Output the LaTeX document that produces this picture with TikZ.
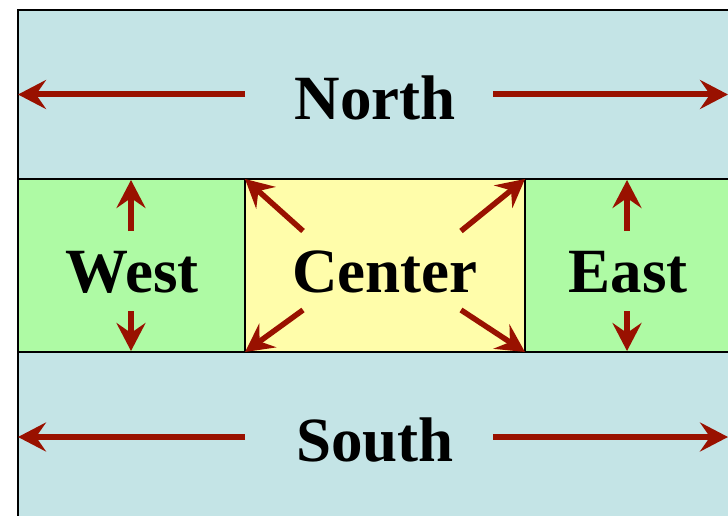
\documentclass[tikz,border=0pt]{standalone}
\usepackage{fontspec}
\setmainfont{Liberation Serif}
\usetikzlibrary{arrows.meta}
\definecolor{northc}{RGB}{196,228,230}
\definecolor{westc}{RGB}{174,250,164}
\definecolor{centc}{RGB}{255,253,170}
\definecolor{arr}{RGB}{153,17,0}
\begin{document}
\begin{tikzpicture}[x=1pt,y=-1pt,
 region/.style={draw=black,line width=2pt,inner sep=0pt,outer sep=0pt,anchor=north west},
 lab/.style={font=\fontsize{63}{70}\selectfont\bfseries,anchor=base,inner sep=0pt},
 bigarrow/.style={draw=arr,line width=6pt,-{Stealth[length=28pt,width=29pt,inset=10pt]}},
 smallarrow/.style={draw=arr,line width=5.5pt,-{Stealth[length=28pt,width=29pt,inset=10pt]}}]
\useasboundingbox (0,0) rectangle (728,516);
\clip (0,0) rectangle (728,516);
% regions
\node[region,fill=northc,minimum width=800pt,minimum height=169pt] (north) at (18,10) {};
\node[region,fill=northc,minimum width=800pt,minimum height=250pt] (south) at (18,352) {};
\node[region,fill=westc,minimum width=227pt,minimum height=173pt] (west) at (18,179) {};
\node[region,fill=centc,minimum width=280pt,minimum height=173pt] (center) at (245,179) {};
\node[region,fill=westc,minimum width=300pt,minimum height=173pt] (east) at (525,179) {};
% labels
\node[lab] (northlab) at (375,120) {North};
\node[lab] (southlab) at (375,461) {South};
\node[lab] (westlab) at (132,292) {West};
\node[lab] (centerlab) at (385,292) {Center};
\node[lab] (eastlab) at (628,292) {East};
% coordinates
\coordinate (nl) at (245,94.5);
\coordinate (nr) at (493,94.5);
\coordinate (nre) at (728,94.5);
\coordinate (sl) at (245,437);
\coordinate (sle) at (18,437);
\coordinate (sr) at (493,437);
\coordinate (sre) at (728,437);
\coordinate (wu) at (131,231);
\coordinate (wut) at (131,180);
\coordinate (wd) at (131,311);
\coordinate (wdt) at (131,351);
\coordinate (eu) at (627,231);
\coordinate (eut) at (627,180);
\coordinate (ed) at (627,311);
\coordinate (edt) at (627,351);
\coordinate (c1) at (303,231);
\coordinate (c2) at (461,231);
\coordinate (c3) at (303,310);
\coordinate (c4) at (461,310);
% arrows
\draw[bigarrow] (nl) -- (north.west);
\draw[bigarrow] (nr) -- (nre);
\draw[bigarrow] (sl) -- (sle);
\draw[bigarrow] (sr) -- (sre);
\draw[smallarrow] (wu) -- (wut);
\draw[smallarrow] (wd) -- (wdt);
\draw[smallarrow] (eu) -- (eut);
\draw[smallarrow] (ed) -- (edt);
\draw[smallarrow] (c1) -- (center.north west);
\draw[smallarrow] (c2) -- (center.north east);
\draw[smallarrow] (c3) -- (center.south west);
\draw[smallarrow] (c4) -- (center.south east);
\end{tikzpicture}
\end{document}
